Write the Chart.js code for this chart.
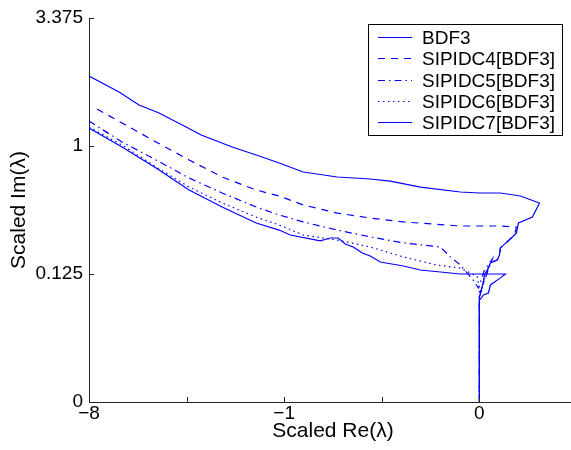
<!DOCTYPE html>
<html>
<head>
<meta charset="utf-8">
<script src="https://cdn.jsdelivr.net/npm/chart.js@4/dist/chart.umd.min.js"></script>
<style>
  html, body { margin: 0; padding: 0; background: #fff; overflow: hidden; }
  #wrap { width: 571px; height: 450px; overflow: hidden; }
  canvas { display: block; }
</style>
</head>
<body>
<div id="wrap"><canvas id="c" width="577" height="450"></canvas></div>
<script>
// ---- Data ----
const seriesNames = ['BDF3', 'SIPIDC4[BDF3]', 'SIPIDC5[BDF3]', 'SIPIDC6[BDF3]', 'SIPIDC7[BDF3]'];

const bdf3Re = [-8, -6.137, -4.545, -3.289, -2.289, -1.4955, -1.0788, -0.910, -0.542, -0.4461, -0.3781, -0.3245, -0.2698, -0.216, -0.1747, -0.1309, -0.0592, -0.0277, -0.000925, 0, 0.00237, 0.00125, 0.000179, 0.0000984, 0.0000086, 0.0000011, 0, 0];
const bdf3Im = [1.226, 0.988, 0.764, 0.568, 0.442, 0.342, 0.303, 0.2776, 0.249, 0.263, 0.263, 0.2351, 0.222, 0.197, 0.1855, 0.1636, 0.1499, 0.137, 0.125, 0.125, 0.125, 0.114, 0.0955, 0.0772, 0.0730, 0.0671, 0.0632, 0];

const sipidc4Re = [-7.518, -6.137, -4.545, -3.289, -2.289, -1.4955, -1.0788, -0.7353, -0.3862, -0.1747, -0.0592, -0.000925, 0, 0.00125, 0.00683, 0.00578, 0.00125, 0.00108, 0.000787, 0.000179, 0.000069, 0.0000169, 0.0000086, 0.0000011, 0, 0];
const sipidc4Im = [1.499, 1.294, 1.048, 0.845, 0.679, 0.568, 0.521, 0.456, 0.402, 0.371, 0.348, 0.325, 0.325, 0.325, 0.319, 0.2776, 0.218, 0.1893, 0.171, 0.160, 0.137, 0.122, 0.103, 0.0837, 0.069, 0];

const sipidc5Re = [-8, -6.137, -4.545, -3.289, -2.289, -1.4955, -1.0788, -0.7353, -0.3862, -0.1747, -0.0592, -0.008, -0.00329, -0.000925, -0.0000463, -0.00000013, 0.0000169, 0.000296, 0.0000463, 0, 0];
const sipidc5Im = [1.322, 1.048, 0.845, 0.670, 0.544, 0.442, 0.390, 0.348, 0.303, 0.268, 0.240, 0.222, 0.182, 0.153, 0.1109, 0.0883, 0.137, 0.1743, 0.122, 0.0730, 0];

const sipidc6Re = [-8, -6.137, -4.545, -3.289, -2.289, -1.4955, -1.0788, -0.7353, -0.3862, -0.1747, -0.0592, -0.00999, -0.000925, -0.000179, -0.0000011, 0, 0];
const sipidc6Im = [1.240, 1.012, 0.774, 0.592, 0.470, 0.377, 0.3305, 0.2776, 0.253, 0.222, 0.182, 0.153, 0.143, 0.131, 0.1164, 0.0837, 0];

const sipidc7Re = [-8, -6.292, -5.301, -4.419, -3.392, -2.897, -2.032, -1.4955, -1.0788, -0.7353, -0.3862, -0.1747, -0.0951, -0.0277, -0.000925, 0, 0.00125, 0.0093, 0.0291, 0.0201, 0.008, 0.00683, 0.00485, 0.00125, 0.00108, 0.000787, 0.000179, 0.000069, 0.0000169, 0.0000086, 0.0000011, 0, 0];
const sipidc7Im = [2.065, 1.776, 1.562, 1.439, 1.240, 1.135, 0.988, 0.898, 0.814, 0.725, 0.679, 0.661, 0.643, 0.592, 0.552, 0.544, 0.544, 0.521, 0.470, 0.377, 0.342, 0.288, 0.268, 0.218, 0.1893, 0.171, 0.160, 0.137, 0.122, 0.103, 0.0837, 0.069, 0];

const xTickValues = [-8, -3.375, -1, -0.125, 0];
const xTickLabels = ['\u22128', '', '\u22121', '', '0'];
const yTickValues = [0, 0.125, 1, 3.375];
const yTickLabels = ['0', '0.125', '1', '3.375'];

// ---- Cube-root scale ----
class CubeRootScale extends Chart.Scale {
  determineDataLimits() {
    const mm = this.getMinMax(false);
    this.min = Number.isFinite(this.options.min) ? this.options.min : mm.min;
    this.max = Number.isFinite(this.options.max) ? this.options.max : mm.max;
  }
  buildTicks() { return []; }
  configure() {
    super.configure();
    this._cs = Math.cbrt(this.min);
    this._cr = Math.cbrt(this.max) - this._cs;
  }
  getPixelForValue(v) {
    return this.getPixelForDecimal((Math.cbrt(v) - this._cs) / this._cr);
  }
  getValueForPixel(p) {
    const u = this._cs + this.getDecimalForPixel(p) * this._cr;
    return u * u * u;
  }
  getLabelForValue(v) { return String(v); }
}
CubeRootScale.id = 'cuberoot';
CubeRootScale.defaults = {};
Chart.register(CubeRootScale);

const pts = (re, im) => re.map((x, i) => ({ x: x, y: im[i] }));
const BLUE = '#0000ff';
const dashes = [[], [7, 6], [7, 4, 1.5, 4], [1.5, 3.5], []];
const datasets = [
  pts(bdf3Re, bdf3Im), pts(sipidc4Re, sipidc4Im), pts(sipidc5Re, sipidc5Im),
  pts(sipidc6Re, sipidc6Im), pts(sipidc7Re, sipidc7Im)
].map((d, i) => ({
  label: seriesNames[i], data: d, showLine: true, borderColor: BLUE,
  backgroundColor: BLUE, borderWidth: 1.2, borderDash: dashes[i],
  pointRadius: 0, pointHoverRadius: 0, fill: false, tension: 0
}));

Chart.defaults.font.family = "'Liberation Sans', Arial, Helvetica, sans-serif";
Chart.defaults.color = '#000';

const AXIS = '#262626';

const tickMarks = {
  id: 'tickMarks',
  afterDraw(chart) {
    const { ctx, chartArea: a } = chart;
    const xs = chart.scales.x, ys = chart.scales.y;
    ctx.save();
    ctx.strokeStyle = AXIS; ctx.lineWidth = 1;
    ctx.beginPath();
    xTickValues.forEach(v => {
      const p = Math.round(xs.getPixelForValue(v)) + 0.5;
      ctx.moveTo(p, a.bottom); ctx.lineTo(p, a.bottom - 5);
    });
    yTickValues.forEach(v => {
      const p = Math.round(ys.getPixelForValue(v)) + 0.5;
      ctx.moveTo(a.left, p); ctx.lineTo(a.left + 5, p);
    });
    ctx.stroke();
    ctx.restore();
  }
};

const boxLegend = {
  id: 'boxLegend',
  afterDraw(chart) {
    const ctx = chart.ctx;
    const x0 = 368.5, y0 = 24.5, w = 194, h = 111;
    ctx.save();
    ctx.fillStyle = '#fff';
    ctx.fillRect(x0, y0, w, h);
    ctx.strokeStyle = '#000'; ctx.lineWidth = 1;
    ctx.strokeRect(x0, y0, w, h);
    ctx.font = "19px 'Liberation Sans', Arial, sans-serif";
    ctx.textBaseline = 'middle';
    ctx.textAlign = 'left';
    chart.data.datasets.forEach((ds, i) => {
      const y = Math.round(37 + i * 21.3) + 0.5;
      ctx.strokeStyle = ds.borderColor;
      ctx.lineWidth = ds.borderWidth;
      ctx.setLineDash(ds.borderDash || []);
      ctx.beginPath(); ctx.moveTo(378, y); ctx.lineTo(412, y); ctx.stroke();
      ctx.setLineDash([]);
      ctx.fillStyle = '#000';
      ctx.fillText(ds.label, 422, y + 1);
    });
    ctx.restore();
  }
};

new Chart(document.getElementById('c'), {
  type: 'scatter',
  data: { datasets },
  options: {
    responsive: false,
    animation: false,
    events: [],
    layout: { padding: { top: 18, right: 0, left: 0, bottom: 0 } },
    plugins: { legend: { display: false }, tooltip: { enabled: false } },
    scales: {
      x: {
        type: 'cuberoot', position: 'bottom', min: -8, max: 0.125,
        afterBuildTicks: s => { s.ticks = xTickValues.map(v => ({ value: v })); },
        afterFit: s => { s.height = 48; },
        grid: { display: false, drawTicks: false },
        border: { display: true, color: AXIS, width: 1 },
        ticks: {
          autoSkip: false, maxRotation: 0, padding: 0, color: '#000',
          font: { size: 19, lineHeight: 1.2 },
          callback: (v, i) => xTickLabels[i]
        },
        title: {
          display: true, text: 'Scaled Re(\u03bb)', color: '#000',
          font: { size: 21, lineHeight: 1.2 }, padding: { top: 0, bottom: 6 }
        }
      },
      y: {
        type: 'cuberoot', position: 'left', min: 0, max: 3.375,
        afterBuildTicks: s => { s.ticks = yTickValues.map(v => ({ value: v })); },
        afterFit: s => { s.width = 89; },
        grid: { display: false, drawTicks: false },
        border: { display: true, color: AXIS, width: 1 },
        ticks: {
          autoSkip: false, padding: 6, color: '#000',
          font: { size: 19, lineHeight: 1.2 },
          callback: (v, i) => yTickLabels[i]
        },
        title: {
          display: true, text: 'Scaled Im(\u03bb)', color: '#000',
          font: { size: 21, lineHeight: 1.2 }, padding: { top: 7, bottom: 0 }
        }
      }
    }
  },
  plugins: [tickMarks, boxLegend]
});
</script>
</body>
</html>
